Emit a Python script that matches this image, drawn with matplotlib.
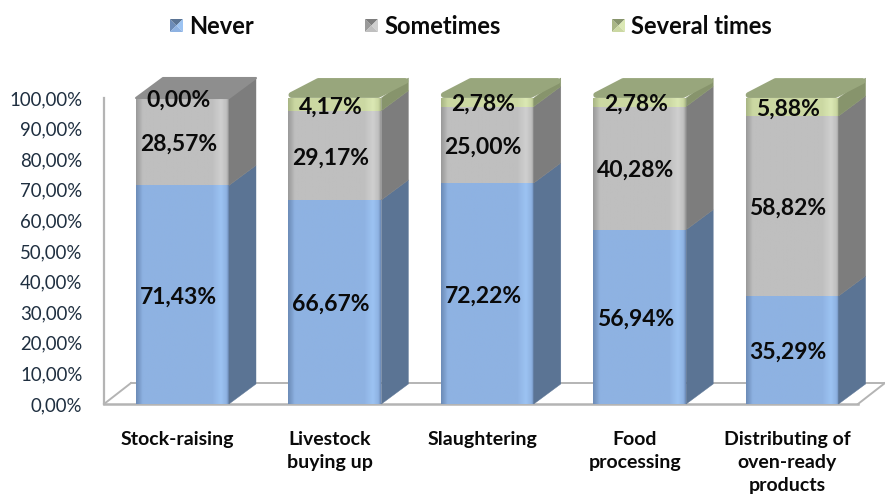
import matplotlib
matplotlib.use("Agg")
import matplotlib.pyplot as plt
import numpy as np
from matplotlib.colors import LinearSegmentedColormap
from matplotlib.patches import Polygon

plt.rcParams['font.family'] = ['Lato', 'DejaVu Sans']

categories = ["Stock-raising", "Livestock\nbuying up", "Slaughtering", "Food\nprocessing",
              "Distributing of\noven-ready\nproducts"]
series_names = ["Never", "Sometimes", "Several times"]
never = [71.43, 66.67, 72.22, 56.94, 35.29]
sometimes = [28.57, 29.17, 25.00, 40.28, 58.82]
several = [0.00, 4.17, 2.78, 2.78, 5.88]
yticks = [0, 10, 20, 30, 40, 50, 60, 70, 80, 90, 100]

W, H = 885, 497
spacing = 152.4      # px between categories
first_x = 182.5      # px centre of first bar
bar_w = 93 / spacing
dx = 27 / spacing
dy = 20 / 306 * 100

# colours: edge, base, highlight, side, top
blue = ["#6d8cb8", "#8eb2e2", "#9cc3f2", "#5b7494", "#6f8aa8"]
gray = ["#9a9a9a", "#bfbfbf", "#cfcfcf", "#7d7d7d", "#8e8e8e"]
green = ["#a9b685", "#cbd8a2", "#dbe8b4", "#87946c", "#98a67c"]
colors = [blue, gray, green]

fig = plt.figure(figsize=(W / 100, H / 100), dpi=100)
# axes spans from the left wall of the plot to the right edge of the figure
ax = fig.add_axes([104 / W, 1 - 404 / H, (W - 104) / W, 306 / H])
ax.set_xlim((104 - first_x) / spacing, (W - first_x) / spacing)
ax.set_ylim(0, 100)
for s in ax.spines.values():
    s.set_visible(False)
ax.set_xticks([])
ax.set_yticks(yticks)
ax.set_yticklabels(["%d,00%%" % t for t in yticks], fontsize=13.4, color="#1f2f40")
ax.tick_params(axis="y", length=0, pad=15.5)
ax.set_facecolor("none")

x0 = ax.get_xlim()[0]
x_front_end = (858 - first_x) / spacing
floor_col = "#b4b4b4"
ax.plot([x0, x0], [0, 100], color=floor_col, lw=1.6, clip_on=False, zorder=1)
ax.plot([x0, x_front_end], [0, 0], color=floor_col, lw=1.8, clip_on=False, zorder=1)
ax.plot([x0, x0 + dx], [0, dy * 1.05], color=floor_col, lw=1.4, clip_on=False, zorder=1)
ax.plot([x0 + dx, ax.get_xlim()[1]], [dy * 1.05, dy * 1.05], color=floor_col, lw=1.4, clip_on=False, zorder=1)
ax.plot([x_front_end, x_front_end + dx], [0, dy * 1.05], color=floor_col, lw=1.4, clip_on=False, zorder=1)


def front_face(left, bottom, top, c, z):
    cmap = LinearSegmentedColormap.from_list("f", [(0, c[0]), (0.07, c[1]), (0.82, c[1]),
                                                    (0.92, c[2]), (0.98, c[1]), (1, c[0])])
    grad = np.linspace(0, 1, 120).reshape(1, -1)
    ax.imshow(grad, cmap=cmap, extent=[left, left + bar_w, bottom, top], aspect="auto",
              zorder=z, clip_on=False, interpolation="bilinear")


for i in range(len(categories)):
    left = i - bar_w / 2
    right = i + bar_w / 2
    bottom = 0
    values = [never[i], sometimes[i], several[i]]
    z = 3 + i
    top_c = None
    for v, c in zip(values, colors):
        if v > 0:
            front_face(left, bottom, bottom + v, c, z)
            ax.add_patch(Polygon([(right, bottom), (right + dx, bottom + dy),
                                  (right + dx, bottom + v + dy), (right, bottom + v)],
                                 closed=True, facecolor=c[3], edgecolor=c[3], lw=0.3,
                                 zorder=z, clip_on=False))
            top_c = c
        bottom += v
    # green tops have rounded corners, the gray one stays sharp
    inset = 3 / spacing if several[i] > 0 else 0
    inset_y = 3 / 3.06 if several[i] > 0 else 0
    edge_w = 4.2 if several[i] > 0 else 1.5
    ax.add_patch(Polygon([(left + inset, bottom + inset_y), (right - inset, bottom + inset_y),
                          (right + dx - inset, bottom + dy - inset_y),
                          (left + dx + inset, bottom + dy - inset_y)],
                         closed=True, facecolor=top_c[4], edgecolor=top_c[4], lw=edge_w,
                         joinstyle="round", zorder=z, clip_on=False))
    # value labels, centred on each segment
    bottom = 0
    for v in values:
        ax.text(i - 4 / spacing, bottom + v / 2 - 0.8, ("%.2f%%" % v).replace(".", ","),
                ha="center", va="center", fontsize=16.5, fontweight="bold",
                color="#0a0a0a", zorder=20, clip_on=False)
        bottom += v
    ax.text(i - 5 / spacing, -8.8, categories[i], ha="center", va="top", fontsize=14,
            fontweight="bold", color="#0a0a0a", linespacing=1.42, clip_on=False)

# legend, placed by hand because the gaps between entries are not equal
legend_x = [170, 365, 612]
for name, lx, c in zip(series_names, legend_x, colors):
    s = 13
    x1, x2 = lx / W, (lx + s) / W
    y1, y2 = 1 - 32 / H, 1 - 19 / H
    xm, ym = (x1 + x2) / 2, (y1 + y2) / 2
    tris = [([(x1, y1), (x1, y2), (xm, ym)], c[0]), ([(x1, y2), (x2, y2), (xm, ym)], c[3]),
            ([(x2, y2), (x2, y1), (xm, ym)], c[2]), ([(x2, y1), (x1, y1), (xm, ym)], c[1])]
    for pts, col in tris:
        fig.add_artist(Polygon(pts, closed=True, transform=fig.transFigure, facecolor=col, edgecolor="none"))
    fig.text((lx + 19) / W, 1 - 26 / H, name, ha="left", va="center", fontsize=17,
             fontweight="bold", color="#0a0a0a")

fig.savefig("out.png", dpi=100)
